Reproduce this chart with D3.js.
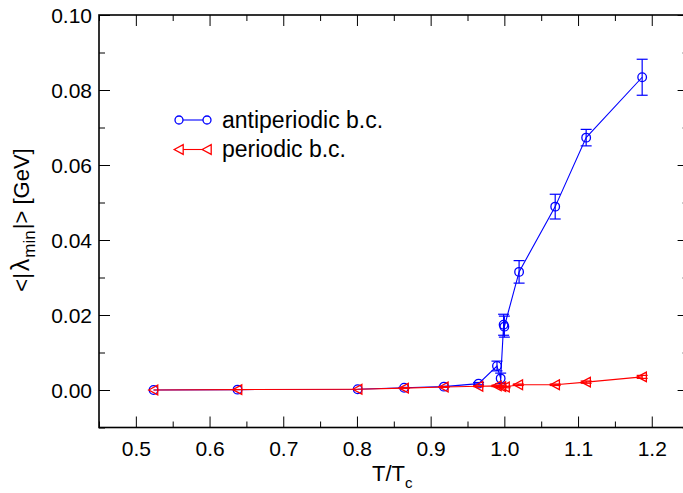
<!DOCTYPE html>
<html>
<head>
<meta charset="utf-8">
<script src="https://cdn.jsdelivr.net/npm/d3@7"></script>
<style>
  html, body { margin: 0; padding: 0; background: #fff; }
  svg { display: block; font-family: "Liberation Sans", Arial, Helvetica, sans-serif; }
</style>
</head>
<body>
<svg id="chart" width="683" height="493"></svg>
<script>
// antiperiodic boundary conditions: T/Tc, <|lambda_min|> [GeV], error
const tAnti   = [0.524, 0.638, 0.801, 0.864, 0.918, 0.965, 0.990, 0.995, 0.999, 1.000, 1.020, 1.069, 1.111, 1.187];
const valAnti = [0.0000, 0.0001, 0.0002, 0.0006, 0.0009, 0.0017, 0.0064, 0.0031, 0.0174, 0.0169, 0.0315, 0.0489, 0.0673, 0.0834];
const errAnti = [0, 0, 0, 0.0001, 0.0001, 0.0003, 0.0013, 0.0014, 0.0028, 0.0028, 0.0030, 0.0033, 0.0022, 0.0048];

// periodic boundary conditions
const tPer   = [0.524, 0.638, 0.801, 0.864, 0.918, 0.965, 0.990, 0.996, 1.001, 1.019, 1.069, 1.111, 1.187];
const valPer = [0.0000, 0.0001, 0.0002, 0.0005, 0.0008, 0.0010, 0.0011, 0.0009, 0.0008, 0.0014, 0.0014, 0.0021, 0.0035];
const errPer = [0, 0, 0, 0.0001, 0.0001, 0.0001, 0.0002, 0.0002, 0.0002, 0.0002, 0.0002, 0.0003, 0.0004];

const xMajor = [0.5, 0.6, 0.7, 0.8, 0.9, 1.0, 1.1, 1.2];
const xMinor = [0.45, 0.55, 0.65, 0.75, 0.85, 0.95, 1.05, 1.15, 1.25];
const yMajor = [0.00, 0.02, 0.04, 0.06, 0.08, 0.10];
const yMinor = [-0.01, 0.01, 0.03, 0.05, 0.07, 0.09];

const seriesNames = ["antiperiodic b.c.", "periodic b.c."];
const BLUE = "#0000ff", RED = "#ff0000";

const svg = d3.select("#chart");
const L = 99, R = 688.6, T = 15, B = 427.5;

const x = d3.scaleLinear().domain([0.45, 1.25]).range([L, R]);
const y = d3.scaleLinear().domain([-0.01, 0.10]).range([B, T]);

// ---- axes (ticks point inward, mirrored on all four sides)
function styleAxis(g) {
  g.select(".domain").remove();
  g.selectAll(".tick line").attr("stroke", "#000").attr("stroke-width", 1);
}
const fmt2 = d3.format(".2f"), fmt1 = d3.format(".1f");

svg.append("g").attr("transform", `translate(0,${B})`)
  .call(d3.axisBottom(x).tickValues(xMajor).tickSize(-11).tickPadding(9).tickFormat(fmt1))
  .call(styleAxis)
  .call(g => g.selectAll("text").attr("font-size", 21).attr("fill", "#000")
    .attr("font-family", "Liberation Sans, Arial, sans-serif").attr("y", 9).attr("dy", "0.95em"));
svg.append("g").attr("transform", `translate(0,${B})`)
  .call(d3.axisBottom(x).tickValues(xMinor).tickSize(-6).tickFormat(""))
  .call(styleAxis);
svg.append("g").attr("transform", `translate(0,${T})`)
  .call(d3.axisTop(x).tickValues(xMajor).tickSize(-11).tickFormat(""))
  .call(styleAxis);
svg.append("g").attr("transform", `translate(0,${T})`)
  .call(d3.axisTop(x).tickValues(xMinor).tickSize(-6).tickFormat(""))
  .call(styleAxis);

svg.append("g").attr("transform", `translate(${L},0)`)
  .call(d3.axisLeft(y).tickValues(yMajor).tickSize(-11).tickPadding(7).tickFormat(fmt2))
  .call(styleAxis)
  .call(g => g.selectAll("text").attr("font-size", 21).attr("fill", "#000")
    .attr("font-family", "Liberation Sans, Arial, sans-serif").attr("x", -7).attr("dy", "0.36em"));
svg.append("g").attr("transform", `translate(${L},0)`)
  .call(d3.axisLeft(y).tickValues(yMinor).tickSize(-6).tickFormat(""))
  .call(styleAxis);
svg.append("g").attr("transform", `translate(${R},0)`)
  .call(d3.axisRight(y).tickValues(yMajor).tickSize(-11).tickFormat(""))
  .call(styleAxis);
svg.append("g").attr("transform", `translate(${R},0)`)
  .call(d3.axisRight(y).tickValues(yMinor).tickSize(-6).tickFormat(""))
  .call(styleAxis);

// frame
svg.append("rect").attr("x", L).attr("y", T).attr("width", R - L).attr("height", B - T)
  .attr("fill", "none").attr("stroke", "#000").attr("stroke-width", 1.6);

// ---- data
const anti = tAnti.map((t, i) => ({ t, v: valAnti[i], e: errAnti[i] }));
const per  = tPer.map((t, i) => ({ t, v: valPer[i], e: errPer[i] }));

const line = d3.line().x(d => x(d.t)).y(d => y(d.v));

function errorBars(data, color) {
  const g = svg.append("g").attr("stroke", color).attr("stroke-width", 1.2).attr("fill", "none");
  data.filter(d => d.e > 0).forEach(d => {
    const cx = x(d.t), y0 = y(d.v - d.e), y1 = y(d.v + d.e);
    g.append("line").attr("x1", cx).attr("x2", cx).attr("y1", y0).attr("y2", y1);
    g.append("line").attr("x1", cx - 5.5).attr("x2", cx + 5.5).attr("y1", y0).attr("y2", y0);
    g.append("line").attr("x1", cx - 5.5).attr("x2", cx + 5.5).attr("y1", y1).attr("y2", y1);
  });
}

const triPath = "M-4.8,0L4.2,-4.8L4.2,4.8Z";

// antiperiodic series (blue, circles)
errorBars(anti, BLUE);
svg.append("path").datum(anti).attr("d", line)
  .attr("fill", "none").attr("stroke", BLUE).attr("stroke-width", 1.1);
svg.append("g").selectAll("circle").data(anti).join("circle")
  .attr("cx", d => x(d.t)).attr("cy", d => y(d.v)).attr("r", 4.3)
  .attr("fill", "none").attr("stroke", BLUE).attr("stroke-width", 1.3);

// periodic series (red, left-pointing triangles)
errorBars(per, RED);
svg.append("path").datum(per).attr("d", line)
  .attr("fill", "none").attr("stroke", RED).attr("stroke-width", 1.1);
svg.append("g").selectAll("path").data(per).join("path")
  .attr("d", triPath)
  .attr("transform", d => `translate(${x(d.t)},${y(d.v)})`)
  .attr("fill", "none").attr("stroke", RED).attr("stroke-width", 1.3);

// ---- legend
const leg = svg.append("g");
const legRows = [
  { name: seriesNames[0], color: BLUE, ly: 120, marker: "circle" },
  { name: seriesNames[1], color: RED,  ly: 149.5, marker: "tri" }
];
legRows.forEach(r => {
  leg.append("line").attr("x1", 179).attr("x2", 207).attr("y1", r.ly).attr("y2", r.ly)
    .attr("stroke", r.color).attr("stroke-width", 1.1);
  [179, 207].forEach(mx => {
    if (r.marker === "circle") {
      leg.append("circle").attr("cx", mx).attr("cy", r.ly).attr("r", 4)
        .attr("fill", "#fff").attr("stroke", r.color).attr("stroke-width", 1.3);
    } else {
      leg.append("path").attr("d", triPath).attr("transform", `translate(${mx},${r.ly})`)
        .attr("fill", "#fff").attr("stroke", r.color).attr("stroke-width", 1.3);
    }
  });
  leg.append("text").attr("x", 222).attr("y", r.ly + 7.5)
    .attr("font-size", 23).attr("fill", "#000").text(r.name);
});

// ---- axis titles
const xt = svg.append("text").attr("x", 372).attr("y", 481).attr("font-size", 22).attr("fill", "#000");
xt.append("tspan").text("T/T");
xt.append("tspan").attr("font-size", 15).attr("dy", 7).text("c");

const yt = svg.append("text")
  .attr("transform", "translate(29,220) rotate(-90)")
  .attr("text-anchor", "middle").attr("font-size", 22).attr("fill", "#000");
yt.append("tspan").text("<|");
yt.append("tspan").attr("dx", 2).attr("font-size", 25).text("λ");
yt.append("tspan").attr("dx", 1).attr("font-size", 17).attr("dy", 6).text("min");
yt.append("tspan").attr("dx", 1).attr("dy", -6).text("|> [GeV]");
</script>
</body>
</html>
